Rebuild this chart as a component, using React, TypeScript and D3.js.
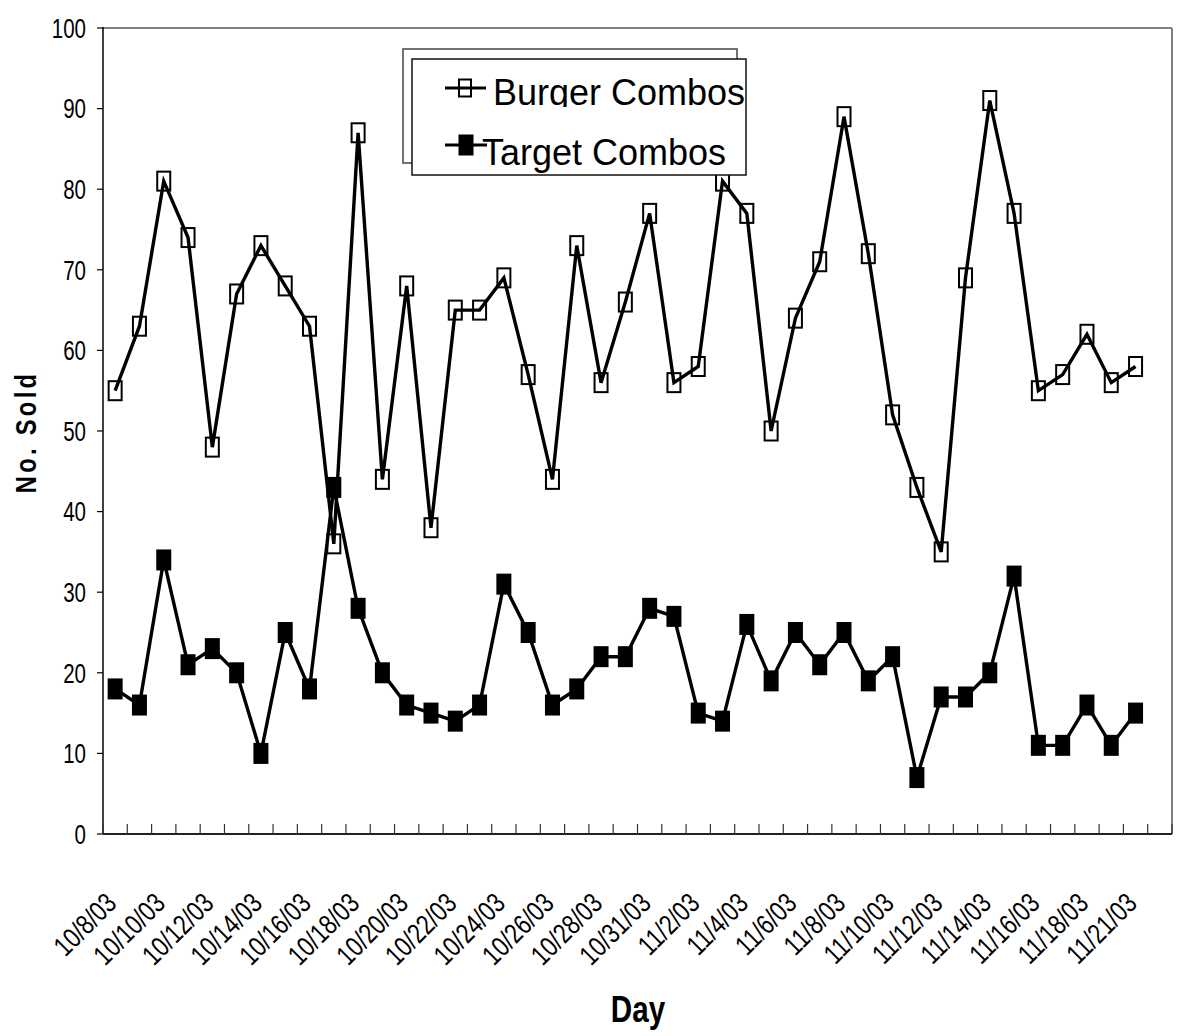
import React from "react";
import * as d3 from "d3";

const categories: string[] = [
  "10/8/03", "10/9/03", "10/10/03", "10/11/03", "10/12/03", "10/13/03", "10/14/03", "10/15/03",
  "10/16/03", "10/17/03", "10/18/03", "10/19/03", "10/20/03", "10/21/03", "10/22/03", "10/23/03",
  "10/24/03", "10/25/03", "10/26/03", "10/27/03", "10/28/03", "10/30/03", "10/31/03", "11/1/03",
  "11/2/03", "11/3/03", "11/4/03", "11/5/03", "11/6/03", "11/7/03", "11/8/03", "11/9/03",
  "11/10/03", "11/11/03", "11/12/03", "11/13/03", "11/14/03", "11/15/03", "11/16/03", "11/17/03",
  "11/18/03", "11/20/03", "11/21/03", "11/22/03",
];

const burgerCombos: number[] = [
  55, 63, 81, 74, 48, 67, 73, 68, 63, 36, 87, 44, 68, 38, 65, 65, 69, 57, 44, 73, 56, 66,
  77, 56, 58, 81, 77, 50, 64, 71, 89, 72, 52, 43, 35, 69, 91, 77, 55, 57, 62, 56, 58,
];

const targetCombos: number[] = [
  18, 16, 34, 21, 23, 20, 10, 25, 18, 43, 28, 20, 16, 15, 14, 16, 31, 25, 16, 18, 22, 22,
  28, 27, 15, 14, 26, 19, 25, 21, 25, 19, 22, 7, 17, 17, 20, 32, 11, 11, 16, 11, 15,
];

const yTicks: number[] = [0, 10, 20, 30, 40, 50, 60, 70, 80, 90, 100];

const seriesNames = ["Burger Combos", "Target Combos"];

const W = 1177;
const H = 1036;
const L = 103;
const R = 1172;
const T = 28;
const B = 834;

const SANS = "'Liberation Sans', Arial, sans-serif";
const SQ = 0.8; // horizontal condensing to mimic a narrow face

export default function App() {
  const x = d3.scaleBand<string>().domain(categories).range([L, R]).padding(0);
  const y = d3.scaleLinear().domain([0, 100]).range([B, T]);
  const cx = (i: number) => (x(categories[i]) as number) + x.bandwidth() / 2;

  const line = d3
    .line<number>()
    .x((_, i) => cx(i))
    .y((d) => y(d));

  const mw = 13;
  const mh = 19;

  const boundaries = categories.map((c) => x(c) as number).concat([R]);

  return (
    <svg width={W} height={H} style={{ position: "absolute", left: 0, top: 0, background: "#fff" }}>
      <defs>
        <clipPath id="burgerClip">
          <rect x={380} y={40} width={420} height={67} />
        </clipPath>
      </defs>
      <rect x={0} y={0} width={W} height={H} fill="#fff" />
      {/* plot frame */}
      <line x1={L} y1={T} x2={R} y2={T} stroke="#808080" strokeWidth={2} />
      <line x1={R} y1={T} x2={R} y2={B} stroke="#808080" strokeWidth={2} />
      {/* y axis */}
      <line x1={L} y1={T - 1} x2={L} y2={B} stroke="#000" strokeWidth={1.5} />
      {yTicks.map((t) => (
        <g key={"y" + t}>
          <line x1={L - 6} x2={L} y1={y(t)} y2={y(t)} stroke="#000" strokeWidth={1.2} />
          <text
            transform={`translate(86,${y(t) + 9.7}) scale(0.76,1)`}
            textAnchor="end"
            fontFamily={SANS}
            fontSize={27}
            fill="#000"
          >
            {t}
          </text>
        </g>
      ))}
      {/* x axis */}
      <line x1={L} y1={B} x2={R} y2={B} stroke="#222" strokeWidth={2} />
      {boundaries.map((bx, i) => (
        <line key={"xt" + i} x1={bx} x2={bx} y1={B} y2={B - 10} stroke="#333" strokeWidth={1.2} />
      ))}
      {categories.map((c, i) =>
        i % 2 === 0 && i < burgerCombos.length ? (
          <text
            key={"xl" + i}
            transform={`translate(${cx(i) + 3},${905}) rotate(-45) scale(${SQ},1)`}
            textAnchor="end"
            fontFamily={SANS}
            fontSize={28}
            fill="#000"
          >
            {c}
          </text>
        ) : null
      )}
      {/* axis titles */}
      <text
        transform={`translate(36,432) rotate(-90) scale(0.82,1)`}
        textAnchor="middle"
        fontFamily={SANS}
        fontWeight="bold"
        fontSize={29}
        letterSpacing={4}
        fill="#000"
      >
        No. Sold
      </text>
      <text
        transform={`translate(638,1022) scale(${SQ},1)`}
        textAnchor="middle"
        fontFamily={SANS}
        fontWeight="bold"
        fontSize={37}
        fill="#000"
      >
        Day
      </text>
      {/* Burger series */}
      <path d={line(burgerCombos) || ""} fill="none" stroke="#000" strokeWidth={3.4} strokeLinejoin="miter" />
      {burgerCombos.map((v, i) => (
        <rect
          key={"b" + i}
          x={cx(i) - mw / 2}
          y={y(v) - mh / 2}
          width={mw}
          height={mh}
          fill="none"
          stroke="#000"
          strokeWidth={2}
        />
      ))}
      {/* Target series */}
      <path d={line(targetCombos) || ""} fill="none" stroke="#000" strokeWidth={3.4} strokeLinejoin="miter" />
      {targetCombos.map((v, i) => (
        <rect
          key={"t" + i}
          x={cx(i) - mw / 2}
          y={y(v) - mh / 2}
          width={mw}
          height={mh}
          fill="#000"
          stroke="#000"
          strokeWidth={2}
        />
      ))}
      {/* legend */}
      <rect x={403} y={49} width={334} height={114} fill="#fff" stroke="#444" strokeWidth={1.5} />
      <rect x={412} y={59} width={334} height={116} fill="#fff" stroke="#111" strokeWidth={1.5} />
      <line x1={445} x2={486} y1={88} y2={88} stroke="#000" strokeWidth={3.2} />
      <rect x={465 - 6} y={88 - 8.5} width={12} height={17} fill="none" stroke="#000" strokeWidth={2} />
      <text x={493} y={105} fontFamily={SANS} fontSize={36} fill="#000" clipPath="url(#burgerClip)">
        {seriesNames[0]}
      </text>
      <line x1={445} x2={487} y1={145} y2={145} stroke="#000" strokeWidth={3.2} />
      <rect x={466 - 6.5} y={145 - 9.5} width={13} height={19} fill="#000" stroke="#000" strokeWidth={2} />
      <text x={482} y={165} fontFamily={SANS} fontSize={36} fill="#000">
        {seriesNames[1]}
      </text>
    </svg>
  );
}
